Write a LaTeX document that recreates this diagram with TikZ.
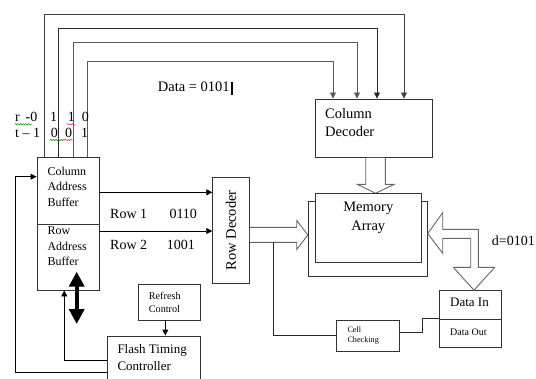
\documentclass[tikz,border=0pt]{standalone}
\usepackage{fontspec}
\setmainfont{Liberation Serif}
\usetikzlibrary{arrows.meta,decorations.pathmorphing}
\newcommand\fsz[1]{\fontsize{#1}{#1}\selectfont}

\begin{document}
\begin{tikzpicture}[x=1pt,y=-1pt,
  box/.style={draw=black!80,line width=0.9pt,fill=white,inner sep=0pt,
    minimum width=#1},
  lbl/.style={inner sep=0pt,anchor=base west},
  wire/.style={line width=0.8pt,-{Triangle[length=6pt,width=6pt]}},
  arr/.style={line width=0.9pt,draw=black,-{Triangle[length=6pt,width=6pt]}},
  plain/.style={line width=0.9pt,draw=black!85},
  blockarrow/.style={draw=black!60,line width=0.9pt,fill=white,line join=miter},
  squig/.style={line width=0.5pt,decorate,
    decoration={snake,amplitude=0.7pt,segment length=2.6pt}}]
\clip (0,0) rectangle (536,378);
\fill[white] (0,0) rectangle (536,378);

% ---- boxes ----
\node[box=62pt,minimum height=67pt] (colbuf) at (68,190.5) {};
\node[box=62pt,minimum height=66pt] (rowbuf) at (68,257) {};
\node[box=36.6pt,minimum height=106pt] (rowdec) at (231,230.3) {};
\node[box=117.7pt,minimum height=58.3pt] (coldec) at (373.85,128.15) {};
\node[box=119pt,minimum height=75.7pt] (memout) at (367.8,238.85) {};
\node[box=61.3pt,minimum height=36pt] (refresh) at (169.35,302) {};
\node[box=92.7pt,minimum height=56pt] (flash) at (153.65,364) {};
\node[box=62.6pt,minimum height=31.7pt] (cell) at (368,335.85) {};
\node[box=62.7pt,minimum height=28.6pt] (datain) at (470.35,305) {};
\node[box=62.7pt,minimum height=28pt] (dataout) at (470.35,333.3) {};

% ---- block arrows into the memory array ----
\draw[blockarrow] (365.7,0 |- coldec.south) -- (365.7,184.3) -- (357.3,184.3)
  -- (375.6,193.3) -- (394.3,184.3) -- (385.3,184.3) -- (385.3,0 |- coldec.south);
\draw[blockarrow] (rowdec.east |- 0,227.3) -- (296.7,227.3) -- (296.7,220.5)
  -- (memout.west |- 0,235) -- (296.7,249.5) -- (296.7,242.3) -- (rowdec.east |- 0,242.3);
\draw[blockarrow] (memout.east |- 0,233.5) -- (442.7,212.7) -- (442.7,229.3)
  -- (478.3,229.3) -- (478.3,267.3) -- (494.7,267.3) -- (474,0 |- datain.north)
  -- (453.3,267.3) -- (470.7,267.3) -- (470.7,238.3) -- (442.7,238.3)
  -- (442.7,253.3) -- cycle;

\node[box=106.7pt,minimum height=69.4pt] (memin) at (368.35,228) {};

% ---- address wires to the column decoder ----
\draw[wire,draw=black!75] (44,0 |- colbuf.north) |- (404,14.7) -- (404,0 |- coldec.north);
\draw[wire,draw=black!85] (58.3,0 |- colbuf.north) |- (377,28.7) -- (377,0 |- coldec.north);
\draw[wire,draw=black!65] (73,0 |- colbuf.north) |- (357,42.7) -- (357,0 |- coldec.north);
\draw[wire,draw=black!65] (87.7,0 |- colbuf.north) |- (333,61.7) -- (333,0 |- coldec.north);

% ---- buffers to row decoder ----
\draw[arr] (colbuf.east |- 0,192.3) -- (rowdec.west |- 0,192.3);
\draw[arr] (rowbuf.east |- 0,231) -- (rowdec.west |- 0,231);

% ---- timing feedback ----
\draw[arr] (flash.west |- 0,372.7) -| (15.7,176.7) -- (colbuf.west |- 0,176.7);
\draw[arr] (flash.west |- 0,360.7) -| (64.3,0 |- rowbuf.south);
\draw[arr] (165.3,0 |- refresh.south) -- (165.3,0 |- flash.north);

% ---- bidirectional bus to the row buffer ----
\coordinate (busTop) at (76.7,271.7);
\coordinate (busBot) at (76.7,324);
\draw[line width=3.6pt,{Triangle[length=15pt,width=15pt]}-{Triangle[length=15pt,width=15pt]}]
  (busTop) -- (busBot);

% ---- cell checking path ----
\draw[plain] (273.3,242.3) |- (cell.west);
\draw[plain] (cell.east |- 0,332.7) -- (422.3,332.7) |- (dataout.north west);

% ---- box labels ----
\node[lbl] (cb1) at (47.3,175.7) {\fsz{12}Column};
\node[lbl] (cb2) at (47.3,190.7) {\fsz{12}Address};
\node[lbl] (cb3) at (47.3,206) {\fsz{12}Buffer};
\node[lbl] (rb1) at (47.3,234) {\fsz{12}Row};
\node[lbl] (rb2) at (47.3,250.7) {\fsz{12}Address};
\node[lbl] (rb3) at (47.3,265.7) {\fsz{12}Buffer};
\node[inner sep=0pt,rotate=90] (rdl) at (rowdec.center) {\fsz{14.5}Row Decoder};
\node[lbl] (cd1) at (325,118.3) {\fsz{14.5}Column};
\node[lbl] (cd2) at (325,136.7) {\fsz{14.5}Decoder};
\node[inner sep=0pt,anchor=base] (ma1) at (368.3,211.7) {\fsz{14.5}Memory};
\node[inner sep=0pt,anchor=base] (ma2) at (368.3,230) {\fsz{14.5}Array};
\node[lbl] (rc1) at (148.7,299) {\fsz{10.2}Refresh};
\node[lbl] (rc2) at (148.7,312.7) {\fsz{10.2}Control};
\node[lbl] (ft1) at (117.3,353.3) {\fsz{13}Flash Timing};
\node[lbl] (ft2) at (117.3,370) {\fsz{13}Controller};
\node[lbl] (cc1) at (347.3,332.3) {\fsz{8.2}Cell};
\node[lbl] (cc2) at (347.3,342.3) {\fsz{8.2}Checking};
\node[lbl] (din) at (450,306) {\fsz{13}Data In};
\node[lbl] (dout) at (450,335.3) {\fsz{10}Data Out};

% ---- free labels ----
\node[lbl] (row1) at (110,218.3) {\fsz{14}Row 1};
\node[lbl] (row1v) at (169.3,218.3) {\fsz{14}0110};
\node[lbl] (row2) at (110,249) {\fsz{14}Row 2};
\node[lbl] (row2v) at (166.7,249) {\fsz{14}1001};
\node[lbl] (dval) at (491.7,245) {\fsz{14}d=0101};
\node[lbl] (data) at (157.7,91) {\fsz{14.5}Data = 0101};
\draw[line width=2pt] (231.7,81.7) -- (231.7,95);

\node[lbl] (ra) at (15,121.7) {\fsz{14}r \,-0};
\node[lbl] (rb) at (50,121.7) {\fsz{14}1};
\node[lbl] (rc) at (67.7,121.7) {\fsz{14}1};
\node[lbl] (rd) at (81.7,121.7) {\fsz{14}0};
\node[lbl] (ta) at (15,137.7) {\fsz{14}t – 1};
\node[lbl] (tb) at (50.7,137.7) {\fsz{14}0};
\node[lbl] (tc) at (65,137.7) {\fsz{14}0};
\node[lbl] (td) at (81,137.7) {\fsz{14}1};

% spell-check underlines
\draw[squig,green!55!black] (14.5,124.3) -- (31.7,124.3);
\draw[squig,red!80] (66.7,124.3) -- (75,124.3);
\draw[squig,green!55!black] (50,140) -- (65,140);
\draw[squig,red!80] (65,140) -- (72.7,140);
\end{tikzpicture}
\end{document}
